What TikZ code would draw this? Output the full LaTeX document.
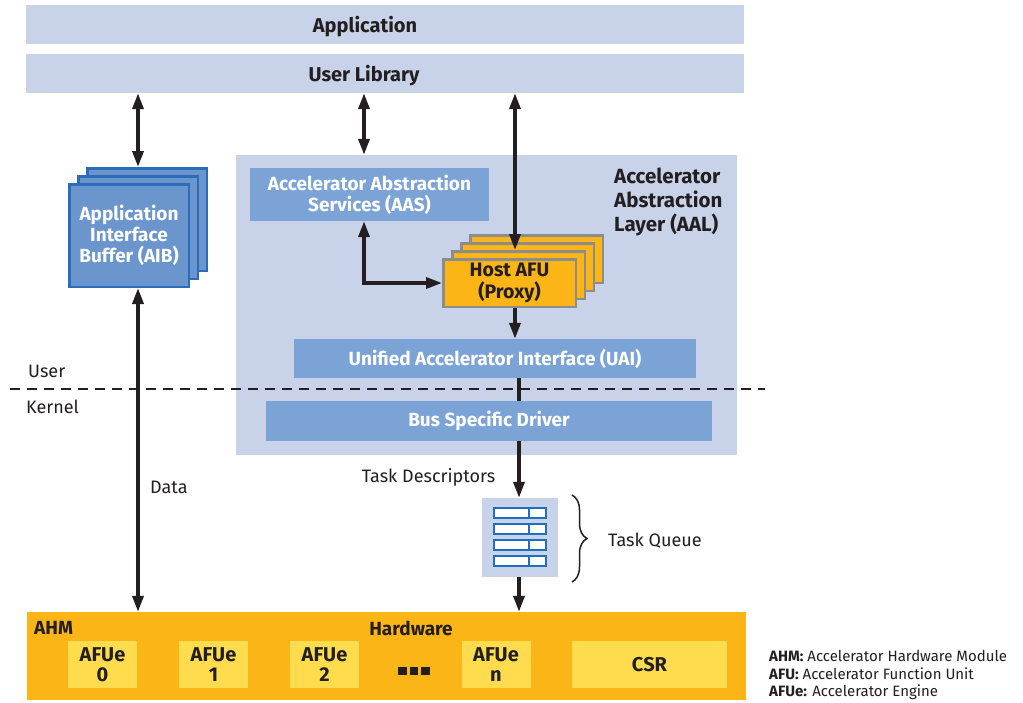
\documentclass[tikz,border=0pt]{standalone}
\usepackage{fontspec}
\setmainfont{Fira Sans}
\usetikzlibrary{arrows.meta,decorations.pathreplacing}
\definecolor{lb}{HTML}{C8D3EA}
\definecolor{mb}{HTML}{7BA3D6}
\definecolor{aibfill}{HTML}{6A96CD}
\definecolor{aibline}{HTML}{2B6DB8}
\definecolor{orng}{HTML}{FBB517}
\definecolor{hostline}{HTML}{8C8C8C}
\definecolor{yel}{HTML}{FFDC4E}
\definecolor{icon}{HTML}{1E6FBF}
\definecolor{ink}{HTML}{231F20}
\tikzset{
  box/.style={rectangle, inner sep=0pt, draw=none},
  lbox/.style={box, fill=lb, text=ink},
  mbox/.style={box, fill=mb, text=white, font=\fontsize{19}{21}\selectfont\bfseries, align=center},
  aibbox/.style={rectangle, inner sep=0pt, fill=aibfill, draw=aibline, line width=2.5pt,
     minimum width=119.5pt, minimum height=102.5pt, text=white, align=center,
     font=\fontsize{19}{21}\selectfont\bfseries},
  hostbox/.style={rectangle, inner sep=0pt, fill=orng, draw=hostline, line width=2.5pt,
     minimum width=132.5pt, minimum height=47.5pt, text=ink, align=center,
     font=\fontsize{19.5}{22}\selectfont\bfseries},
  afue/.style={box, fill=yel, text=ink, minimum width=69pt, minimum height=47pt, align=center,
     font=\fontsize{20}{20.5}\selectfont\bfseries},
  lbl/.style={text=ink, inner sep=0pt, font=\fontsize{18}{21}\selectfont},
  arr/.style={draw=ink, line width=3.5pt, -{Triangle[length=16pt,width=11pt]}},
  darr/.style={draw=ink, line width=3.5pt, {Triangle[length=16pt,width=11pt]}-{Triangle[length=16pt,width=11pt]}},
  plainline/.style={draw=ink, line width=3.5pt},
}
\begin{document}
\begin{tikzpicture}[x=1pt,y=-1pt]
\useasboundingbox[fill=white] (0,0) rectangle (1023,702);
% x positions for vertical connectors
\coordinate (xL) at (138,0);
\coordinate (xM) at (364,0);
\coordinate (xR) at (515,0);
\coordinate (xD) at (519,0);

% top bars
\node[lbox, minimum width=718pt, minimum height=39pt] (app) at (385,24.5) {};
\node[text=ink, inner sep=0pt, font=\fontsize{20}{22}\selectfont\bfseries] (apptxt) at (365,26.5) {Application};
\node[lbox, minimum width=718pt, minimum height=39pt] (ulib) at (385,73.5) {};
\node[text=ink, inner sep=0pt, font=\fontsize{20}{22}\selectfont\bfseries] (ulibtxt) at (364,75.5) {User Library};

% AAL region
\node[lbox, minimum width=501pt, minimum height=300pt] (aal) at (486.5,305) {};
\node[anchor=north west, align=left, text=ink, inner sep=0pt, font=\fontsize{20.5}{24}\selectfont\bfseries] (aallbl) at (614,168) {Accelerator\\Abstraction\\Layer (AAL)};

\node[mbox, minimum width=239pt, minimum height=53pt] (aas) at (369.5,194.5) {Accelerator Abstraction\\Services (AAS)};
\node[mbox, minimum width=402pt, minimum height=39pt] (uai) at (495,358.5) {Unified Accelerator Interface (UAI)};
\node[mbox, minimum width=446pt, minimum height=40pt] (bsd) at (489,421) {Bus Specific Driver};

% Host AFU stack
\node[hostbox] (host4) at (536.5,259) {};
\node[hostbox] (host3) at (527.5,267) {};
\node[hostbox] (host2) at (518.5,275) {};
\node[hostbox] (host) at (509.5,283) {Host AFU\\(Proxy)};

% AIB stack
\node[aibbox] (aib3) at (147,219.5) {};
\node[aibbox] (aib2) at (138,227.5) {};
\node[aibbox] (aib) at (129,235.5) {Application\\Interface\\Buffer (AIB)};

% user / kernel divider
\draw[ink, line width=2pt, dash pattern=on 10pt off 7pt] (10,389) -- (765,389);
\node[lbl, anchor=west] (userlbl) at (28,371) {User};
\node[lbl, anchor=west] (kernlbl) at (26,407) {Kernel};

% task queue
\node[lbox, minimum width=76pt, minimum height=79pt] (tq) at (520,537.5) {};
\foreach \i in {0,1,2,3}{
  \draw[icon, fill=white, line width=2.2pt] (494,508+16*\i) rectangle (546,518+16*\i);
  \draw[icon, line width=2.2pt] (529,508+16*\i) -- (529,518+16*\i);
}
\draw[ink, line width=1.5pt, decorate, decoration={brace, amplitude=15pt}] (572,495) -- (572,582);
\node[lbl, anchor=west] (tqlbl) at (608,541) {Task Queue};
\node[lbl] (tdlbl) at (428.5,477) {Task Descriptors};

% hardware
\node[box, fill=orng, minimum width=719pt, minimum height=88pt] (ahm) at (386.5,656) {};
\node[anchor=west, text=ink, inner sep=0pt, font=\fontsize{19}{21}\selectfont\bfseries] (ahmlbl) at (34,628) {AHM};
\node[text=ink, inner sep=0pt, font=\fontsize{19}{21}\selectfont\bfseries] (hwlbl) at (411,628) {Hardware};
\node[afue] (afue0) at (102.5,664.5) {AFUe\\0};
\node[afue] (afue1) at (213.5,664.5) {AFUe\\1};
\node[afue] (afue2) at (324.5,664.5) {AFUe\\2};
\node[afue] (afuen) at (496,664.5) {AFUe\\n};
\node[afue, minimum width=155pt] (csr) at (649.5,664.5) {CSR};
\fill[ink] (398,667) rectangle (406.5,675);
\fill[ink] (409.5,667) rectangle (418,675);
\fill[ink] (421,667) rectangle (429.5,675);

% legend
\node[anchor=west, align=left, text=ink, inner sep=0pt, font=\fontsize{15}{17.5}\selectfont] (legend) at (769,675)
  {\textbf{AHM:} Accelerator Hardware Module\\\textbf{AFU:} Accelerator Function Unit\\\textbf{AFUe:} Accelerator Engine};

% connectors
\draw[darr] (ulib.south -| xL) -- (aib3.north -| xL);
\draw[darr] (ulib.south -| xM) -- (aal.north -| xM);
\draw[darr] (ulib.south -| xR) -- (host2.north -| xR);
\draw[darr] (aas.south -| xM) |- (host.west);
\draw[arr] (host.south -| xR) -- (uai.north -| xR);
\draw[plainline] (uai.south -| xD) -- (bsd.north -| xD);
\draw[arr] (bsd.south -| xD) -- (tq.north -| xD);
\draw[arr] (tq.south -| xD) -- (ahm.north -| xD);
\draw[darr] (aib.south -| xL) -- (ahm.north -| xL);
\node[lbl, anchor=west] (datalbl) at (150,487) {Data};
\end{tikzpicture}
\end{document}
